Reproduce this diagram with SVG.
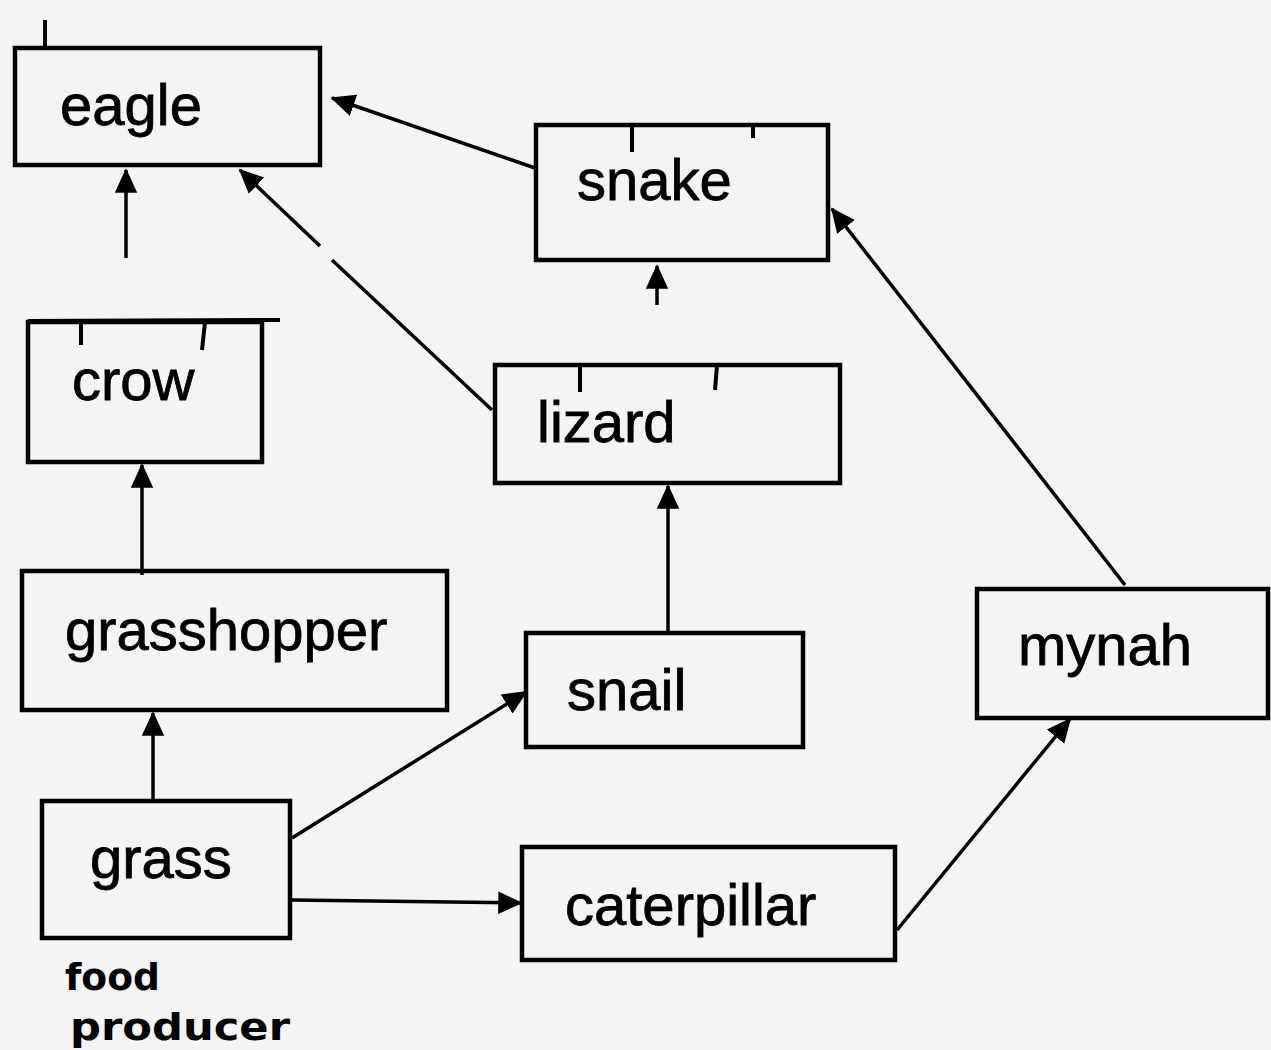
<svg xmlns="http://www.w3.org/2000/svg" width="1271" height="1050" viewBox="0 0 1271 1050">
<defs>
<marker id="ah" markerWidth="7" markerHeight="7" refX="6.5" refY="3.5" orient="auto" markerUnits="strokeWidth">
<path d="M0,0.3 L7,3.5 L0,6.7 Z" fill="#000"/>
</marker>
<style>
.box{fill:none;stroke:#000;stroke-width:4.5}
.lbl{font-family:"Liberation Sans",Arial,sans-serif;font-size:58px;fill:#000;stroke:#000;stroke-width:0.8}
.con{stroke:#000;stroke-width:3.5;fill:none;marker-end:url(#ah)}
.tick{stroke:#000;stroke-width:4}
.note{font-family:"DejaVu Sans","Liberation Sans",sans-serif;font-size:38px;font-weight:bold;fill:#000}
</style>
</defs>
<rect width="1271" height="1050" fill="#f4f4f4"/>
<g id="eagle"><rect class="box" x="15" y="48" width="305" height="117"/><text class="lbl" x="60" y="125">eagle</text><line class="tick" x1="45" y1="20" x2="45" y2="48"/></g>
<g id="snake"><rect class="box" x="536" y="125" width="292" height="135"/><text class="lbl" x="577" y="200">snake</text><line class="tick" x1="632" y1="125" x2="632" y2="152"/><line class="tick" x1="753" y1="125" x2="753" y2="138"/></g>
<g id="crow"><rect class="box" x="28" y="322" width="234" height="140"/><line class="tick" x1="28" y1="321" x2="280" y2="320"/><text class="lbl" x="72" y="400">crow</text><line class="tick" x1="81" y1="322" x2="81" y2="345"/><line class="tick" x1="205" y1="322" x2="202" y2="350"/></g>
<g id="lizard"><rect class="box" x="495" y="365" width="345" height="118"/><text class="lbl" x="537" y="442">lizard</text><line class="tick" x1="580" y1="365" x2="580" y2="392"/><line class="tick" x1="717" y1="365" x2="715" y2="390"/></g>
<g id="grasshopper"><rect class="box" x="22" y="571" width="425" height="139"/><text class="lbl" x="65" y="650">grasshopper</text></g>
<g id="snail"><rect class="box" x="526" y="633" width="277" height="114"/><text class="lbl" x="567" y="710">snail</text></g>
<g id="mynah"><rect class="box" x="977" y="589" width="291" height="129"/><text class="lbl" x="1018" y="665">mynah</text></g>
<g id="grass"><rect class="box" x="42" y="801" width="248" height="137"/><text class="lbl" x="90" y="878">grass</text></g>
<g id="caterpillar"><rect class="box" x="522" y="847" width="373" height="113"/><text class="lbl" x="565" y="925">caterpillar</text></g>
<g id="note"><text class="note" x="65" y="990" textLength="95" lengthAdjust="spacingAndGlyphs">food</text><text class="note" x="70" y="1040" textLength="220" lengthAdjust="spacingAndGlyphs">producer</text></g>
<g id="connectors">
<line class="con" x1="126" y1="258" x2="126" y2="170"/>
<line class="con" x1="535" y1="168" x2="332" y2="98"/>
<line class="con" x1="320" y1="246" x2="240" y2="170"/>
<line stroke="#000" stroke-width="3.5" x1="492" y1="410" x2="332" y2="260"/>
<line class="con" x1="657" y1="305" x2="657" y2="266"/>
<line class="con" x1="1125" y1="585" x2="832" y2="209"/>
<line class="con" x1="142" y1="575" x2="142" y2="465"/>
<line class="con" x1="668" y1="631" x2="668" y2="486"/>
<line class="con" x1="153" y1="799" x2="153" y2="713"/>
<line class="con" x1="292" y1="838" x2="526" y2="692"/>
<line class="con" x1="292" y1="900" x2="521" y2="903"/>
<line class="con" x1="897" y1="930" x2="1070" y2="719"/>
</g>
</svg>
